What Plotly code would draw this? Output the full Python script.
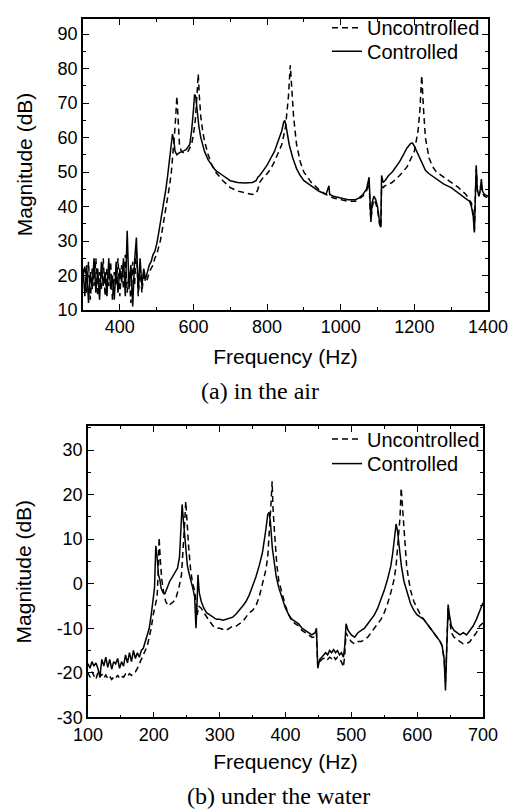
"""Frequency response magnitude, uncontrolled vs controlled (in air / under water)."""

import plotly.graph_objects as go

# ---- (a) in the air -------------------------------------------------------
air_ctrl_freq = [
    300, 305, 310, 315, 320, 325, 330, 335, 340, 345, 350, 355, 360, 365, 370, 375, 380, 385,
    390, 395, 400, 405, 410, 415, 420, 425, 430, 435, 440, 445, 450, 455, 460, 465, 470,
    475, 480, 485, 490, 495, 500, 505, 510, 515, 520, 525, 530, 535, 540, 543, 547, 550, 555,
    560, 570, 580, 590, 595, 600, 603, 606, 610, 615, 620, 630, 640, 650, 660, 680, 700, 720,
    740, 760, 770, 775, 780, 790, 800, 810, 820, 830, 840, 845, 848, 852, 860, 870, 880, 890,
    900, 920, 940, 960, 968, 970, 980, 1000, 1020, 1040, 1050, 1060, 1070, 1077, 1080, 1082,
    1085, 1090, 1095, 1100, 1105, 1109, 1111, 1115, 1120, 1130, 1140, 1150, 1160, 1170, 1180,
    1190, 1195, 1200, 1210, 1220, 1230, 1240, 1260, 1280, 1300, 1320, 1340, 1350, 1355, 1360,
    1363, 1366, 1368, 1371, 1375, 1378, 1382, 1385, 1390, 1400,
]
air_ctrl_mag = [
    22, 14, 23, 12, 21, 16, 25, 15, 22, 13, 24, 17, 21, 14, 25, 16, 20, 13,
    24, 15, 22, 18, 25, 14, 33, 16, 23, 11, 24, 31, 15, 25, 17, 22, 19,
    21, 23, 24, 26, 27, 29, 32, 35, 38, 41, 45, 49, 54, 59, 61, 59, 56, 55,
    55.5, 56, 56.5, 58, 62, 68, 72.5, 72, 67, 63, 60, 56, 53.5, 52, 50.5, 49, 47.5, 47,
    46.8, 47, 47.5, 48.5, 49, 50.5, 52, 54, 56, 59, 62, 64.5, 65, 63, 58, 54, 51, 49,
    47.5, 46, 44.5, 43.5, 46, 43.5, 43, 42.5, 42, 42, 42.5, 43.5, 45, 48.5, 40, 35.5,
    41, 43, 42, 40, 36, 34, 49, 47, 47.5, 49, 50, 51.5, 53, 55, 57,
    58.3, 58.4, 57.5, 55, 52.5, 50.5, 49.5, 48, 46.5, 45.5, 44, 42.5, 41.5, 40, 37,
    32.5, 45, 52, 45, 43, 44, 48, 44.5, 43.5, 43,
]

air_unc_freq = [
    300, 305, 310, 315, 320, 325, 330, 335, 340, 345, 350, 355, 360, 365, 370, 375, 380, 385,
    390, 395, 400, 405, 410, 415, 420, 425, 430, 435, 440, 445, 450, 455, 460, 465, 470,
    475, 480, 485, 490, 495, 500, 505, 510, 515, 520, 525, 530, 535, 540, 545, 550, 555, 558,
    562, 567, 575, 585, 595, 600, 605, 610, 613, 616, 620, 625, 630, 640, 650, 660, 680, 700,
    720, 740, 760, 770, 775, 780, 790, 800, 810, 820, 830, 840, 850, 858, 863, 867, 872, 880,
    890, 900, 920, 940, 960, 980, 1000, 1020, 1040, 1060, 1070, 1077, 1080, 1082, 1086, 1090,
    1095, 1100, 1105, 1109, 1111, 1115, 1120, 1140, 1160, 1180, 1200, 1210, 1215, 1220, 1225,
    1230, 1240, 1250, 1260, 1280, 1300, 1320, 1340, 1355, 1360, 1363, 1366, 1368, 1371, 1375,
    1380, 1385, 1390, 1400,
]
air_unc_mag = [
    18, 23, 15, 24, 13, 22, 17, 25, 14, 21, 16, 25, 14, 22, 17, 24, 13, 21,
    17, 25, 14, 23, 16, 26, 15, 21, 12, 24, 17, 28, 14, 22, 15, 21, 18,
    19, 21, 22, 23, 25, 26, 28, 30, 33, 36, 39, 42, 46, 50, 56, 63, 72, 64,
    58, 56, 55.5, 56, 58, 61, 65, 73, 78.5, 72, 66, 62, 59, 55, 52, 50, 47.5, 45.5,
    44.5, 44, 43.5, 43.8, 45, 47, 48.5, 49.5, 51, 53, 55.5, 58, 63, 72, 81, 74, 66, 58,
    53, 50, 47, 45, 43.5, 42.5, 42, 41.5, 41.5, 43, 44.5, 47, 39, 36, 40, 42,
    41, 39, 35, 33.8, 46, 45.5, 46, 47, 49, 51.5, 56, 62, 68, 78, 68,
    60, 54, 51.5, 50, 48.5, 47, 45.5, 43.5, 41, 38, 33, 44, 51, 45, 43,
    46, 44, 43, 42.5,
]

# ---- (b) under the water --------------------------------------------------
water_ctrl_freq = [
    100, 103, 106, 109, 112, 115, 118, 121, 124, 127, 130, 133, 136, 139, 142, 145, 148, 151,
    154, 157, 160, 163, 166, 169, 172, 175, 178, 181, 184, 187, 190, 193, 196, 199, 201, 203,
    205, 207, 209, 211, 214, 217, 220, 224, 228, 232, 236, 239, 241, 243, 245, 248, 251, 254,
    257, 260, 262, 264, 266, 267, 269, 272, 276, 280, 285, 290, 295, 300, 305, 310, 315, 320,
    325, 330, 335, 340, 345, 350, 355, 360, 365, 370, 373, 375, 377, 380, 383, 386, 390, 395,
    400, 405, 410, 415, 420, 425, 430, 435, 440, 445, 447, 449, 452, 455, 458, 461, 464, 467,
    470, 473, 476, 479, 482, 485, 488, 490, 492, 495, 500, 505, 510, 515, 520, 525, 530, 535,
    540, 545, 550, 555, 560, 563, 566, 568, 570, 573, 576, 580, 585, 590, 595, 600, 605, 610,
    615, 620, 625, 630, 635, 638, 641, 643, 645, 647, 649, 652, 656, 660, 665, 670, 675, 680,
    685, 690, 695, 700,
]
water_ctrl_mag = [
    -18, -19, -17.5, -18.5, -17.8, -19, -21, -17, -18.5, -16.5, -18.8, -17, -19.2, -17.5, -18, -16.8, -19, -17.5,
    -18.5, -16, -17.8, -15.5, -17.5, -15, -16.8, -15.5, -16.5, -15, -14.5, -13, -11.5, -10, -7, -4, -1, 8.5,
    6, 2, 1, -1, -2, -2.2, -1, 0.5, 1.5, 2.5, 3.5, 6, 12, 17.8, 14, 8, 4, 2,
    0.5, -1.5, -3, -10, -3, 2, -2, -4, -5.5, -6.5, -7, -7.5, -8, -8, -8.2, -8, -7.8, -7.5,
    -6.8, -6, -5, -4, -2.5, -0.5, 1.5, 4, 7, 12, 15.5, 16, 14, 8, 4, 1.5, -1, -3.5,
    -5.5, -7, -8, -8.5, -9, -10, -10.5, -11, -11.5, -11, -10, -19, -17, -16.5, -16, -15.5, -16, -15,
    -15.5, -14.8, -15.5, -15, -16, -15.5, -16.5, -14, -9, -10.5, -11.5, -12, -11, -10.5, -10, -9, -8, -7,
    -5.5, -3.5, -1.5, 1, 4, 7, 11, 13.4, 12, 8, 4, 0.5, -2, -4.5, -6, -7, -7.5, -8,
    -9, -10, -11, -12, -13, -14, -17, -24, -12, -4.7, -7, -9.5, -10.5, -11, -11.5, -11, -11.5, -10.5,
    -9.5, -8, -6, -4.3,
]

water_unc_freq = [
    100, 103, 106, 109, 112, 115, 118, 121, 124, 127, 130, 133, 136, 139, 142, 145, 148, 151,
    154, 157, 160, 163, 166, 169, 172, 175, 178, 181, 184, 187, 190, 193, 196, 199, 202, 205,
    207, 208, 210, 212, 215, 218, 222, 226, 230, 234, 238, 242, 245, 247, 248.5, 250, 253, 256,
    259, 262, 264, 266, 268, 272, 276, 280, 285, 290, 295, 300, 305, 310, 315, 320, 325, 330,
    335, 340, 345, 350, 355, 360, 365, 370, 373, 376, 378, 379.7, 381, 384, 387, 390, 395, 400,
    405, 410, 415, 420, 425, 430, 435, 440, 445, 447, 449, 452, 455, 458, 461, 464, 467, 470,
    473, 476, 479, 482, 485, 488, 490, 492, 495, 500, 505, 510, 515, 520, 525, 530, 535, 540,
    545, 550, 555, 560, 565, 568, 571, 574, 575.7, 578, 581, 584, 587, 590, 595, 600, 605, 610,
    615, 620, 625, 630, 635, 638, 641, 643, 645, 647, 649, 652, 656, 660, 665, 670, 675, 680,
    685, 690, 695, 700,
]
water_unc_mag = [
    -20, -21, -19.8, -20.5, -21.5, -20, -21, -20.3, -21.2, -20.5, -21.3, -20.8, -21.5, -21, -21.3, -20.5, -21.3, -20.8,
    -21, -20.3, -20.8, -20.2, -20.6, -20, -19.8, -19, -18, -17, -16, -15, -14, -12, -10, -7, -5, -3,
    4, 10.4, 5, 1, -2, -4, -5, -4.5, -4, -3, -1, 2, 8, 14, 18.5, 14, 8, 3,
    0, -1.5, -4, -7, -5, -5.5, -6.5, -7.5, -8.5, -9.5, -10, -10, -10.3, -10.5, -10, -9.5, -9.5, -9,
    -8.5, -7.5, -6.5, -6, -5, -3, 0, 3, 6, 12, 18, 23, 17, 10, 4, 0.5, -2.5, -5,
    -7, -8.5, -9, -9.5, -10.5, -11, -11.5, -12, -12, -11, -18.5, -17.5, -17, -16.8, -16.5, -17, -16.5, -16.8,
    -16.2, -17, -16.5, -17, -17.5, -18.7, -16, -11, -12, -13, -13.5, -13, -13, -12.5, -12, -11, -10, -9,
    -8, -6.5, -4.5, -2, 1, 4, 9, 15, 21.5, 16, 9, 4, 1, -1.5, -4, -5.5, -7, -8,
    -9, -10, -11, -12, -13, -14, -17, -22, -12, -5.5, -8, -11, -12, -12.5, -13, -13.5, -13.5, -13,
    -12, -11, -9.5, -8.8,
]

# y tick labels of (b) use a plain hyphen as in the original figure
water_ytick_vals = [-30, -20, -10, 0, 10, 20, 30]
water_ytick_text = ["-30", "-20", "-10", "0", "10", "20", "30"]

# page body has an 8px margin, so the figure is laid out in a slightly smaller box
OFF = 8
W, H = 518 - OFF, 811 - OFF
AX_FONT = dict(family="Liberation Sans, Arial, sans-serif", size=18, color="black")
TITLE_FONT = dict(family="Liberation Sans, Arial, sans-serif", size=21, color="black")
LEG_FONT = dict(family="Liberation Sans, Arial, sans-serif", size=20, color="black")
CAP_FONT = dict(family="Liberation Serif, Times New Roman, serif", size=24, color="black")
DASH = "6px,4px"


def px_x(x):
    return (x - OFF) / W


def px_y(y):
    return 1 - (y - OFF) / H


fig = go.Figure()

# one legend per trace so each entry can sit where the reference puts it
fig.add_trace(go.Scatter(x=air_unc_freq, y=air_unc_mag, mode="lines", name="Uncontrolled",
                         line=dict(color="black", width=1.5, dash=DASH), xaxis="x", yaxis="y", legend="legend"))
fig.add_trace(go.Scatter(x=air_ctrl_freq, y=air_ctrl_mag, mode="lines", name="Controlled",
                         line=dict(color="black", width=1.5), xaxis="x", yaxis="y", legend="legend2"))
fig.add_trace(go.Scatter(x=water_unc_freq, y=water_unc_mag, mode="lines", name="Uncontrolled",
                         line=dict(color="black", width=1.5, dash=DASH), xaxis="x2", yaxis="y2", legend="legend3"))
fig.add_trace(go.Scatter(x=water_ctrl_freq, y=water_ctrl_mag, mode="lines", name="Controlled",
                         line=dict(color="black", width=1.5), xaxis="x2", yaxis="y2", legend="legend4"))


def axis_style(minor_step, **kw):
    base = dict(
        showline=True, linecolor="black", linewidth=1.5, mirror="ticks",
        ticks="inside", ticklen=6, tickwidth=1.2, tickcolor="black",
        showgrid=False, zeroline=False, tickfont=AX_FONT, automargin=False,
        minor=dict(ticks="inside", ticklen=3, tickwidth=1, tickcolor="black",
                   showgrid=False, dtick=minor_step),
    )
    base.update(kw)
    return base


def legend_at(x_px, top_px):
    return dict(x=px_x(x_px), y=px_y(top_px), xanchor="left", yanchor="top",
                bgcolor="rgba(0,0,0,0)", font=LEG_FONT)


fig.update_layout(
    width=W, height=H,
    margin=dict(l=0, r=0, t=0, b=0),
    paper_bgcolor="white", plot_bgcolor="white",
    xaxis=axis_style(100, domain=[px_x(83), px_x(488)], range=[300, 1400], tick0=0, dtick=200,
                     anchor="y", title=dict(text="Frequency (Hz)", font=TITLE_FONT, standoff=13)),
    yaxis=axis_style(5, domain=[px_y(303), 1], range=[10, 94.4], tick0=0, dtick=10,
                     anchor="x", title=dict(text="Magnitude (dB)", font=TITLE_FONT, standoff=19)),
    xaxis2=axis_style(50, domain=[px_x(88), px_x(483)], range=[100, 700], tick0=0, dtick=100,
                      anchor="y2", title=dict(text="Frequency (Hz)", font=TITLE_FONT, standoff=11)),
    yaxis2=axis_style(5, domain=[px_y(716), px_y(420.7)], range=[-30, 35.4],
                      tickmode="array", tickvals=water_ytick_vals, ticktext=water_ytick_text,
                      anchor="x2", title=dict(text="Magnitude (dB)", font=TITLE_FONT, standoff=19)),
    legend=legend_at(327, -3),
    legend2=legend_at(327, 21),
    legend3=legend_at(327, 414),
    legend4=legend_at(327, 439),
    showlegend=True,
)

fig.add_annotation(text="(a) in the air", x=px_x(260), y=px_y(385), xref="paper", yref="paper",
                   showarrow=False, font=CAP_FONT, xanchor="center", yanchor="middle")
fig.add_annotation(text="(b) under the water", x=px_x(278), y=px_y(796), xref="paper", yref="paper",
                   showarrow=False, font=CAP_FONT, xanchor="center", yanchor="middle")

fig.write_html("out.html")
